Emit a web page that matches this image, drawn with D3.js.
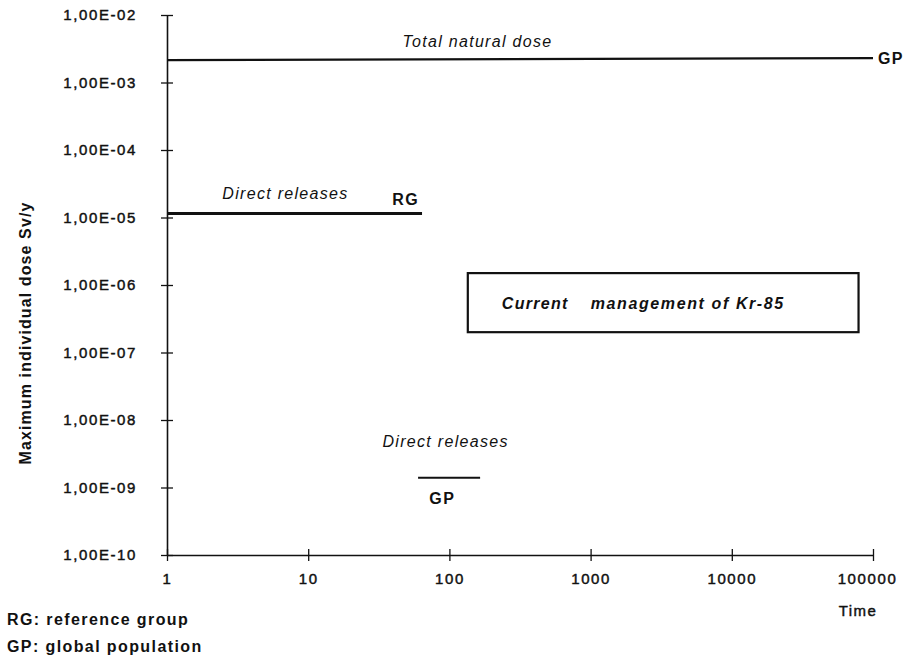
<!DOCTYPE html>
<html>
<head>
<meta charset="utf-8">
<script src="https://cdn.jsdelivr.net/npm/d3@7"></script>
<style>
  body { margin: 0; background: #fff; }
  svg { display: block; }
  text { font-family: "Liberation Sans", Arial, Helvetica, sans-serif; fill: #111; }
  .tick text { font-size: 15px; letter-spacing: 1.6px; stroke: #111; stroke-width: 0.45px; }
  .lbl-i { font-style: italic; font-size: 16px; letter-spacing: 1.3px; }
  .lbl-b { font-weight: bold; font-size: 16px; letter-spacing: 1.4px; }
</style>
</head>
<body>
<div id="chart"></div>
<script>
// axes
const xTicks = [1, 10, 100, 1000, 10000, 100000];
const xTickLabels = ["1", "10", "100", "1000", "10000", "100000"];
const yTicks = [1e-2, 1e-3, 1e-4, 1e-5, 1e-6, 1e-7, 1e-8, 1e-9, 1e-10];
const yTickLabels = ["1,00E-02", "1,00E-03", "1,00E-04", "1,00E-05", "1,00E-06",
                     "1,00E-07", "1,00E-08", "1,00E-09", "1,00E-10"];

// series (time, dose Sv/y)
const naturalDoseTime = [1, 100000];
const naturalDoseValue = [2.15e-3, 2.3e-3];
const rgDirectTime = [1, 64];
const rgDirectValue = [1.15e-5, 1.15e-5];
const gpDirectTime = [60, 165];
const gpDirectValue = [1.4e-9, 1.4e-9];

// Kr-85 box: time range and dose range
const krBoxTime = [135, 79000];
const krBoxDose = [1.5e-6, 2.0e-7];

const width = 910, height = 662;

const svg = d3.select("#chart").append("svg")
    .attr("width", width)
    .attr("height", height);

const x = d3.scaleLog().domain([1, 100000]).range([167, 873]);
const y = d3.scaleLog().domain([1e-10, 1e-2]).range([555, 15]);

// y axis, ticks crossing the line
const yAxis = svg.append("g")
    .attr("transform", "translate(" + x(1) + ",0)")
    .call(d3.axisLeft(y)
        .tickValues(yTicks)
        .tickFormat((d, i) => yTickLabels[i])
        .tickSizeInner(6)
        .tickSizeOuter(0)
        .tickPadding(24));
yAxis.select(".domain").attr("stroke", "#111").attr("stroke-width", 1.6);
yAxis.selectAll(".tick line").attr("x1", 6).attr("stroke", "#111").attr("stroke-width", 1.3);
yAxis.selectAll(".tick text").attr("font-size", null).attr("font-family", null);

// x axis
const xAxis = svg.append("g")
    .attr("transform", "translate(0," + y(1e-10) + ")")
    .call(d3.axisBottom(x)
        .tickValues(xTicks)
        .tickFormat((d, i) => xTickLabels[i])
        .tickSizeInner(6)
        .tickSizeOuter(0)
        .tickPadding(12));
xAxis.select(".domain").attr("stroke", "#111").attr("stroke-width", 1.4);
xAxis.selectAll(".tick line").attr("y1", -6).attr("stroke", "#111").attr("stroke-width", 1.3);
xAxis.selectAll(".tick text").attr("font-size", null).attr("font-family", null);
xAxis.selectAll(".tick text").filter(d => d === 100000).attr("dx", -6);

// axis titles
svg.append("text")
    .attr("class", "lbl-b")
    .attr("transform", "translate(31,333) rotate(-90)")
    .attr("text-anchor", "middle")
    .style("letter-spacing", "1.1px")
    .text("Maximum individual dose Sv/y");

svg.append("text")
    .attr("x", x(100000) - 15)
    .attr("y", 616)
    .attr("text-anchor", "middle")
    .style("font-size", "15px")
    .style("letter-spacing", "1.4px")
    .style("stroke", "#111").style("stroke-width", "0.45px")
    .text("Time");

// lines
const line = d3.line().x(d => x(d[0])).y(d => y(d[1]));
const zip = (a, b) => a.map((v, i) => [v, b[i]]);

svg.append("path")
    .datum(zip(naturalDoseTime, naturalDoseValue))
    .attr("d", line)
    .attr("fill", "none").attr("stroke", "#111").attr("stroke-width", 2.2);

svg.append("path")
    .datum(zip(rgDirectTime, rgDirectValue))
    .attr("d", line)
    .attr("fill", "none").attr("stroke", "#111").attr("stroke-width", 3);

svg.append("path")
    .datum(zip(gpDirectTime, gpDirectValue))
    .attr("d", line)
    .attr("fill", "none").attr("stroke", "#111").attr("stroke-width", 2);

// Kr-85 box
svg.append("rect")
    .attr("x", x(krBoxTime[0]))
    .attr("y", y(krBoxDose[0]))
    .attr("width", x(krBoxTime[1]) - x(krBoxTime[0]))
    .attr("height", y(krBoxDose[1]) - y(krBoxDose[0]))
    .attr("fill", "none").attr("stroke", "#111").attr("stroke-width", 2.2);

const boxMidY = (y(krBoxDose[0]) + y(krBoxDose[1])) / 2 + 6;
svg.append("text").attr("class", "lbl-i")
    .attr("x", x(krBoxTime[0]) + 34).attr("y", boxMidY)
    .style("font-weight", "bold")
    .text("Current");
svg.append("text").attr("class", "lbl-i")
    .attr("x", x(krBoxTime[0]) + 123).attr("y", boxMidY)
    .style("font-weight", "bold")
    .style("letter-spacing", "1.6px")
    .text("management of Kr-85");

// annotations
svg.append("text").attr("class", "lbl-i")
    .attr("x", x(158)).attr("y", y(naturalDoseValue[0]) - 13)
    .attr("text-anchor", "middle")
    .text("Total natural dose");
svg.append("text").attr("class", "lbl-b")
    .attr("x", x(naturalDoseTime[1]) + 5).attr("y", y(naturalDoseValue[1]) + 6)
    .text("GP");

svg.append("text").attr("class", "lbl-i")
    .attr("x", x(6.9)).attr("y", y(rgDirectValue[0]) - 14)
    .attr("text-anchor", "middle")
    .text("Direct releases");
svg.append("text").attr("class", "lbl-b")
    .attr("x", x(rgDirectTime[1]) - 3).attr("y", y(rgDirectValue[1]) - 8)
    .attr("text-anchor", "end")
    .text("RG");

svg.append("text").attr("class", "lbl-i")
    .attr("x", x(94)).attr("y", y(gpDirectValue[0]) - 31)
    .attr("text-anchor", "middle")
    .text("Direct releases");
svg.append("text").attr("class", "lbl-b")
    .attr("x", x(89)).attr("y", y(gpDirectValue[0]) + 26)
    .attr("text-anchor", "middle")
    .text("GP");

// footnotes
svg.append("text").attr("class", "lbl-b")
    .attr("x", 7).attr("y", 625)
    .text("RG: reference group");
svg.append("text").attr("class", "lbl-b")
    .attr("x", 7).attr("y", 652)
    .text("GP: global population");
</script>
</body>
</html>
